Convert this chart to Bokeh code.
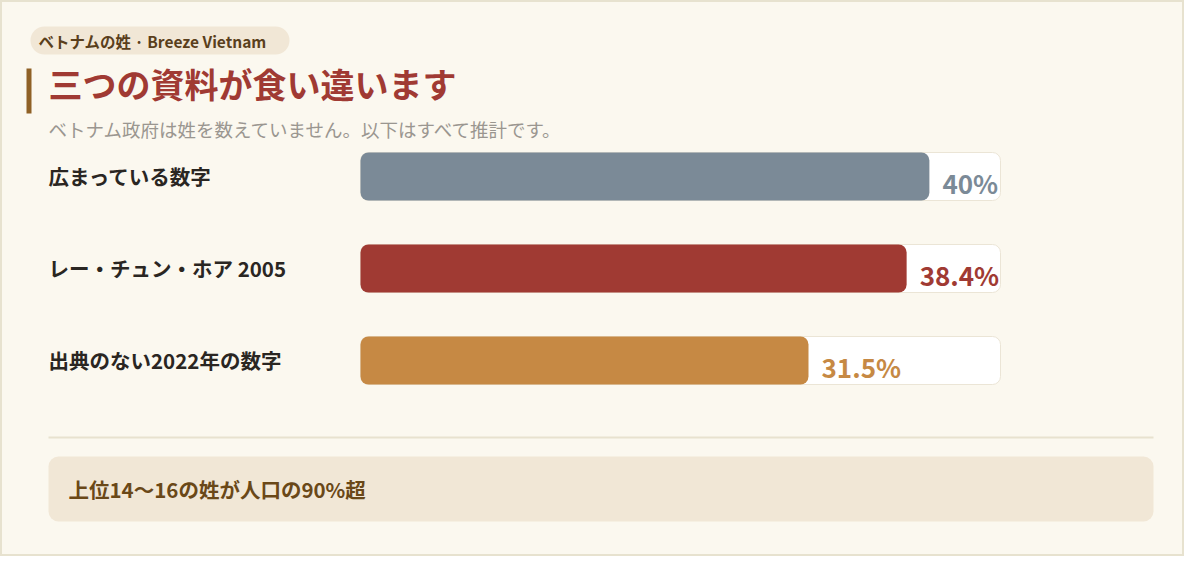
from bokeh.plotting import figure
from bokeh.models import Range1d, ColumnDataSource, Label
from bokeh.core.properties import value
from bokeh.embed import file_html
from bokeh.resources import INLINE

# ---- data ----
categories = ["広まっている数字", "レー・チュン・ホア 2005", "出典のない2022年の数字"]
values = [40, 38.4, 31.5]
value_labels = ["40%", "38.4%", "31.5%"]
bar_colors = ["#7b8a97", "#a03a33", "#c68944"]
label_colors = ["#7b8a97", "#a03a33", "#c68944"]
track_max = 45

tag_text = "ベトナムの姓 · Breeze Vietnam"
title_text = "三つの資料が食い違います"
subtitle_text = "ベトナム政府は姓を数えていません。以下はすべて推計です。"
footer_text = "上位14～16の姓が人口の90%超"

JP = "Noto Sans CJK JP"
W, H = 1184, 556          # figure size (fits 1200x572 window with 8px margin)

# layout (pixels)
TRACK_L, TRACK_R = 360, 1000
LABEL_X = 48
ROW0_Y, ROW_STEP = 176, 92
BAR_H = 48
ppp = (TRACK_R - TRACK_L) / track_max

p = figure(width=W, height=H, output_backend="svg", toolbar_location=None,
           x_range=Range1d(-TRACK_L / ppp, (W - TRACK_L) / ppp),
           y_range=Range1d((H - ROW0_Y) / ROW_STEP, -ROW0_Y / ROW_STEP),
           x_axis_location=None, y_axis_location=None, min_border=0)
p.extra_x_ranges = {"px": Range1d(0, W)}
p.extra_y_ranges = {"px": Range1d(H, 0)}
p.grid.visible = False
p.background_fill_color = "#fbf8ef"
p.border_fill_color = "#fbf8ef"
p.outline_line_color = "#e7e2cf"
p.outline_line_width = 3

rows = list(range(len(categories)))
src = ColumnDataSource(dict(y=rows, cat=categories, v=values, lab=value_labels,
                            col=bar_colors, lcol=label_colors,
                            tmax=[track_max] * len(rows), zero=[0] * len(rows),
                            lx=[LABEL_X] * len(rows)))

# tracks
p.hbar(y="y", left="zero", right="tmax", height=BAR_H / ROW_STEP, source=src,
       fill_color="#ffffff", line_color="#ebe5d6", line_width=1, border_radius=8)
# bars
p.hbar(y="y", left="zero", right="v", height=BAR_H / ROW_STEP, source=src,
       fill_color="col", line_color=None, border_radius=8)
# value labels
p.text(x="v", y="y", text="lab", source=src, text_color="lcol",
       text_font=value(JP), text_font_size="26px", text_font_style="bold",
       text_baseline="middle", text_align="left", x_offset=13, y_offset=6)
# category labels
p.text(x="lx", y="y", text="cat", source=src, x_range_name="px",
       text_color="#2a2622", text_font=value(JP), text_font_size="20.5px",
       text_font_style="bold", text_baseline="middle", text_align="left", y_offset=-1)

# header pill
p.quad(left=[30], right=[289], top=[26], bottom=[54], x_range_name="px", y_range_name="px",
       fill_color="#f1e7d6", line_color=None, border_radius=14)
p.add_layout(Label(x=38, y=40, text=tag_text, x_range_name="px", y_range_name="px",
                   text_font=JP, text_font_size="15.5px", text_font_style="bold",
                   text_color="#5a3f1c", text_baseline="middle"))
# accent bar + title
p.quad(left=[26], right=[31], top=[68], bottom=[113], x_range_name="px", y_range_name="px",
       fill_color="#8f6126", line_color=None)
p.add_layout(Label(x=48, y=83, text=title_text, x_range_name="px", y_range_name="px",
                   text_font=JP, text_font_size="34px", text_font_style="bold",
                   text_color="#a03a33", text_baseline="middle"))
p.add_layout(Label(x=48, y=128, text=subtitle_text, x_range_name="px", y_range_name="px",
                   text_font=JP, text_font_size="18.5px",
                   text_color="#9a9690", text_baseline="middle"))
# divider
p.segment(x0=[48], x1=[1153], y0=[437], y1=[437], x_range_name="px", y_range_name="px",
          line_color="#e8e2cf", line_width=2)
# footer box
p.quad(left=[48], right=[1153], top=[456], bottom=[521], x_range_name="px", y_range_name="px",
       fill_color="#f1e7d6", line_color=None, border_radius=10)
p.add_layout(Label(x=68, y=488, text=footer_text, x_range_name="px", y_range_name="px",
                   text_font=JP, text_font_size="20.5px", text_font_style="bold",
                   text_color="#6a4818", text_baseline="middle"))

open("out.html", "w").write(file_html(p, INLINE))
